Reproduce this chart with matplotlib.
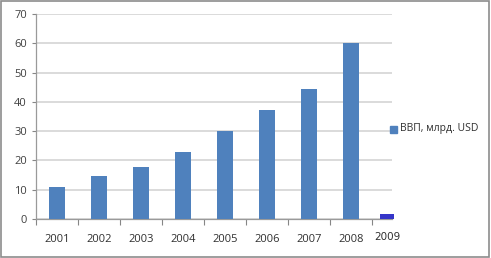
"""GDP bar chart, 2001-2009."""

import matplotlib.pyplot as plt
from matplotlib.patches import Rectangle

YEARS = ["2001", "2002", "2003", "2004", "2005", "2006", "2007", "2008"]
GDP = [11.0, 14.6, 17.6, 23.0, 30.2, 37.1, 44.5, 60.1]
# 2009 was pasted onto the original picture by hand, off the category grid
EXTRA_YEAR = "2009"
EXTRA_GDP = 1.6
SERIES = "ВВП, млрд. USD"


def main():
    plt.rcParams.update({"font.family": ["Open Sans", "DejaVu Sans"], "font.size": 7.5})
    fig = plt.figure(figsize=(4.91, 2.58), dpi=100)
    ax = fig.add_axes([36 / 491, 1 - 219 / 258, 356 / 491, 205 / 258])

    x = list(range(len(YEARS)))
    ax.bar(x, GDP, width=0.38, color="#4f81bd", zorder=3)
    ax.bar(7.86, EXTRA_GDP, width=0.33, color="#3535c8", zorder=3, clip_on=False)

    ax.set_xlim(-0.5, 7.98)
    ax.set_ylim(0, 70)
    ax.set_yticks(range(0, 71, 10))
    ax.set_xticks([i - 0.5 for i in range(len(YEARS) + 1)])
    ax.set_xticklabels([])
    ax.tick_params(axis="x", length=4, color="#868686", width=0.8)
    ax.tick_params(axis="y", length=3, color="#868686", width=0.8, colors="#404040")
    ax.tick_params(axis="y", labelcolor="#404040", labelsize=8)
    for i, year in enumerate(YEARS):
        ax.text(i, -7, year, ha="center", va="center", fontsize=8, color="#303030")
    ax.text(7.88, -6.0, EXTRA_YEAR, ha="center", va="center", fontsize=7.5,
            color="#303030", family=["Liberation Sans Narrow", "DejaVu Sans"])

    ax.grid(axis="y", color="#d4d4d4", linewidth=1.2, zorder=0)
    for side in ("top", "right"):
        ax.spines[side].set_visible(False)
    for side in ("left", "bottom"):
        ax.spines[side].set_color("#9a9a9a")
        ax.spines[side].set_linewidth(0.9)

    fig.patches.append(Rectangle((400 / 491 - 10 / 491, 1 - 133 / 258), 7 / 491, 7 / 258,
                                 transform=fig.transFigure, color="#4f81bd"))
    fig.text(400 / 491, 1 - 129 / 258, SERIES, ha="left", va="center",
             fontsize=7.5, color="#303030")

    fig.patches.append(Rectangle((1 / 491, 1 / 258), 488 / 491, 256 / 258,
                                 transform=fig.transFigure, fill=False,
                                 edgecolor="#8c8c8c", linewidth=1.2))
    fig.savefig("out.png", dpi=100, facecolor="white")
    plt.close(fig)


if __name__ == "__main__":
    main()
